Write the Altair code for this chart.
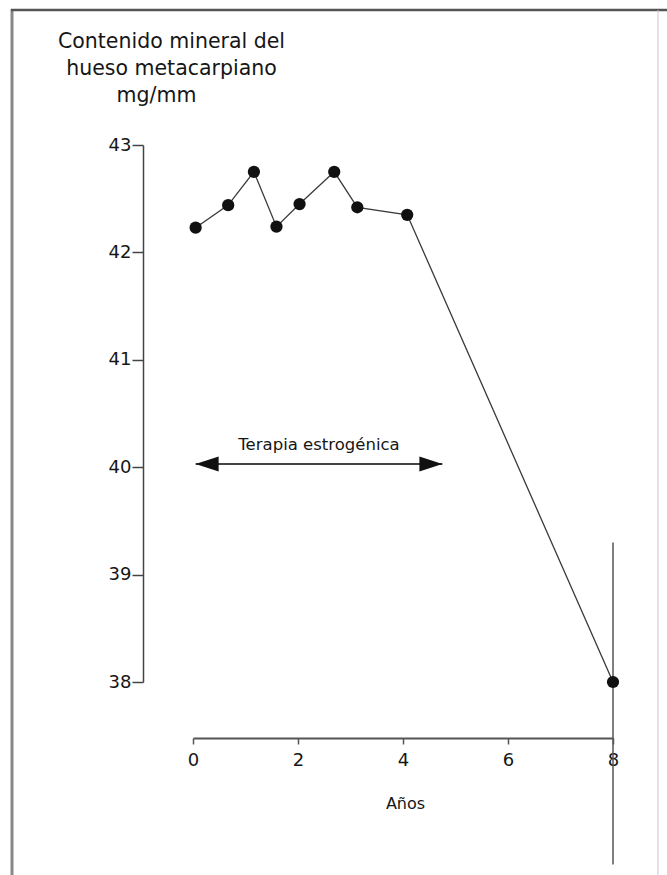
import altair as alt
import pandas as pd

# ---- data ----
years = [0.05, 0.67, 1.16, 1.59, 2.03, 2.69, 3.13, 4.08, 8.0]
mineral = [42.23, 42.44, 42.75, 42.24, 42.45, 42.75, 42.42, 42.35, 38.0]

y_ticks = [38, 39, 40, 41, 42, 43]
x_ticks = [0, 2, 4, 6, 8]

therapy_start = 0.05
therapy_end = 4.75
therapy_level = 40.03
therapy_label = "Terapia estrogénica"

followup_year = 8.0
followup_top = 39.3
followup_bottom = 36.3

title_lines = ["Contenido mineral del", "hueso metacarpiano", "mg/mm\u2800\u2800"]
x_title = "Años"

# ---- styling ----
FONT = "DejaVu Sans"
INK = "#161616"
W, H = 420, 537
PAD = {"left": 193, "top": 145, "right": 54, "bottom": 193}

xscale = alt.Scale(domain=[0, 8], nice=False, zero=False)
yscale = alt.Scale(domain=[38, 43], nice=False, zero=False)

xaxis = alt.Axis(
    values=x_ticks, format="d", title=x_title, offset=56,
    tickSize=6, tickWidth=1.5, tickColor="#555", labelPadding=7,
    labelFont=FONT, labelFontSize=18, labelColor=INK, labelFlush=False,
    domainColor="#555", domainWidth=2, grid=False,
    titleFont=FONT, titleFontSize=16, titleFontWeight="normal", titleColor=INK,
    titleBaseline="alphabetic", titleY=70, titleX=212,
)
yaxis = alt.Axis(
    values=y_ticks, format="d", title=title_lines, offset=50,
    tickSize=11, tickWidth=1.5, tickColor="#444", labelPadding=1,
    labelFont=FONT, labelFontSize=18, labelColor=INK, labelFlush=False,
    domainColor="#444", domainWidth=1.5, grid=False,
    titleFont=FONT, titleFontSize=20.5, titleFontWeight="normal", titleColor=INK,
    titleAngle=0, titleAlign="center", titleBaseline="alphabetic",
    titleLineHeight=27, titleX=28, titleY=-98,
)

df = pd.DataFrame({"year": years, "value": mineral})
therapy = pd.DataFrame({"x1": [therapy_start], "x2": [therapy_end],
                        "y": [therapy_level], "mid": [(therapy_start + therapy_end) / 2],
                        "label": [therapy_label]})
heads = pd.DataFrame({"x": [therapy_start, therapy_end], "y": [therapy_level] * 2,
                      "side": ["left", "right"]})
followup = pd.DataFrame({"x": [followup_year], "y1": [followup_top], "y2": [followup_bottom]})

LEFT_HEAD = "M0,0 L2,-0.65 L2,0.65 Z"
RIGHT_HEAD = "M0,0 L-2,-0.65 L-2,0.65 Z"

vline = alt.Chart(followup).mark_rule(color="#555", strokeWidth=1.5).encode(
    x=alt.X("x:Q", scale=xscale, axis=xaxis),
    y=alt.Y("y1:Q", scale=yscale, axis=yaxis),
    y2="y2:Q",
)

line = alt.Chart(df).mark_line(color="#3a3a3a", strokeWidth=1.3).encode(
    x=alt.X("year:Q", scale=xscale),
    y=alt.Y("value:Q", scale=yscale),
)
points = alt.Chart(df).mark_circle(size=150, color="#111", opacity=1).encode(
    x=alt.X("year:Q", scale=xscale),
    y=alt.Y("value:Q", scale=yscale),
)

arrow_line = alt.Chart(therapy).mark_rule(color="#444", strokeWidth=2).encode(
    x=alt.X("x1:Q", scale=xscale), x2="x2:Q", y=alt.Y("y:Q", scale=yscale),
)
left_head = alt.Chart(heads[heads.side == "left"]).mark_point(
    shape=LEFT_HEAD, size=529, filled=True, color="#111", opacity=1, strokeWidth=0
).encode(x=alt.X("x:Q", scale=xscale), y=alt.Y("y:Q", scale=yscale))
right_head = alt.Chart(heads[heads.side == "right"]).mark_point(
    shape=RIGHT_HEAD, size=529, filled=True, color="#111", opacity=1, strokeWidth=0
).encode(x=alt.X("x:Q", scale=xscale), y=alt.Y("y:Q", scale=yscale))
label = alt.Chart(therapy).mark_text(
    font=FONT, fontSize=16.5, color=INK, align="center", baseline="alphabetic", dy=-14
).encode(x=alt.X("mid:Q", scale=xscale), y=alt.Y("y:Q", scale=yscale), text="label:N")

# page frame (decoration, pixel positions relative to the plot origin)
frame_left = alt.Chart(followup).mark_rule(color="#888", strokeWidth=3).encode(
    x=alt.value(-181), y=alt.value(-136), y2=alt.value(730))
frame_top = alt.Chart(followup).mark_rule(color="#555", strokeWidth=2.5).encode(
    x=alt.value(-182), x2=alt.value(474), y=alt.value(-135))
frame_right = alt.Chart(followup).mark_rule(color="#c8c8c8", strokeWidth=1).encode(
    x=alt.value(465), y=alt.value(-135), y2=alt.value(730))

chart = alt.layer(
    vline, line, points, arrow_line, left_head, right_head, label,
    frame_left, frame_top, frame_right,
).properties(
    width=W, height=H,
    autosize=alt.AutoSizeParams(type="none"),
    padding=PAD,
    background="white",
).configure_view(strokeWidth=0)

chart.save("out.html", embed_options={"renderer": "svg", "actions": False})
